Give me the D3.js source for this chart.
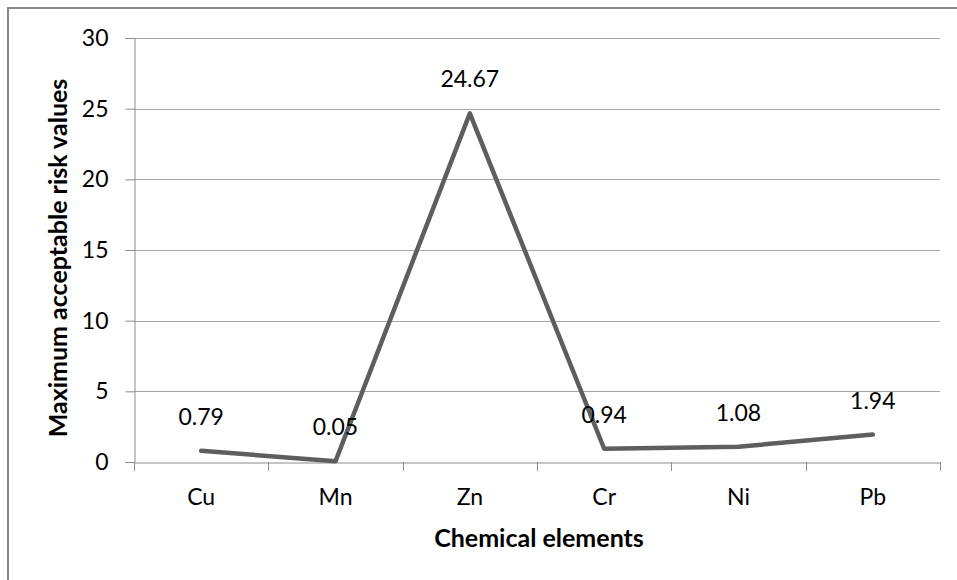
<!DOCTYPE html>
<html><head><meta charset="utf-8">
<script src="https://cdn.jsdelivr.net/npm/d3@7"></script>
<style>
html,body{margin:0;padding:0;background:#fff;}
svg{display:block;}
text{font-family:Lato,"Open Sans",sans-serif;fill:#000;}
</style></head>
<body>
<svg id="chart" width="957" height="580"></svg>
<script>
const categories = ["Cu","Mn","Zn","Cr","Ni","Pb"];
const values = [0.79,0.05,24.67,0.94,1.08,1.94];
const labels = ["0.79","0.05","24.67","0.94","1.08","1.94"];
const yTicks = [0,5,10,15,20,25,30];
const xTitle = "Chemical elements";
const yTitle = "Maximum acceptable risk values";

const svg = d3.select("#chart");
const m = {left:134, right:940, top:38, bottom:462};

// outer frame
svg.append("rect").attr("x",8).attr("y",8).attr("width",960).attr("height",590)
  .attr("fill","none").attr("stroke","#888").attr("stroke-width",2);

const x = d3.scaleBand().domain(categories).range([m.left,m.right]);
const y = d3.scaleLinear().domain([0,30]).range([m.bottom,m.top]);

// gridlines
svg.append("g").selectAll("line").data(yTicks.filter(d=>d>0)).join("line")
  .attr("x1",m.left).attr("x2",m.right)
  .attr("y1",d=>Math.round(y(d))+0.5).attr("y2",d=>Math.round(y(d))+0.5)
  .attr("stroke","#a6a6a6").attr("stroke-width",1);

// y axis
const yAxis = svg.append("g").attr("transform",`translate(${m.left+0.5},0)`)
  .call(d3.axisLeft(y).tickValues(yTicks).tickSize(9).tickPadding(17).tickFormat(d3.format("d")));
yAxis.select(".domain").attr("stroke","#8c8c8c");
yAxis.selectAll(".tick line").attr("stroke","#8c8c8c");
yAxis.selectAll(".tick text").attr("font-size",23).attr("font-family","Lato").attr("fill","#000");

// x axis
const xAxis = svg.append("g").attr("transform",`translate(0,${m.bottom+0.5})`)
  .call(d3.axisBottom(x).tickSize(0).tickPadding(26));
xAxis.select(".domain").attr("stroke","#8c8c8c");
xAxis.selectAll(".tick text").attr("font-size",23).attr("font-family","Lato").attr("fill","#000");
// boundary tick marks
const bounds = categories.map(c=>x(c)).concat([m.right]);
svg.append("g").selectAll("line").data(bounds).join("line")
  .attr("x1",d=>Math.round(d)+0.5).attr("x2",d=>Math.round(d)+0.5)
  .attr("y1",m.bottom).attr("y2",m.bottom+9)
  .attr("stroke","#8c8c8c");

// line
const line = d3.line().x((d,i)=>x(categories[i])+x.bandwidth()/2).y(d=>y(d));
svg.append("path").datum(values).attr("d",line)
  .attr("fill","none").attr("stroke","#5e5e5e").attr("stroke-width",4.5)
  .attr("stroke-linejoin","round").attr("stroke-linecap","round");

// data labels
svg.append("g").selectAll("text").data(values).join("text")
  .attr("x",(d,i)=>x(categories[i])+x.bandwidth()/2)
  .attr("y",d=>y(d)-26)
  .attr("text-anchor","middle").attr("font-size",23)
  .text((d,i)=>labels[i]);

// titles
svg.append("text").attr("x",(m.left+m.right)/2+2).attr("y",547)
  .attr("text-anchor","middle").attr("font-size",25).attr("font-weight","bold").text(xTitle);
svg.append("text").attr("transform",`translate(67,258) rotate(-90)`)
  .attr("text-anchor","middle").attr("font-size",25).attr("font-weight","bold").text(yTitle);
</script>
</body></html>
